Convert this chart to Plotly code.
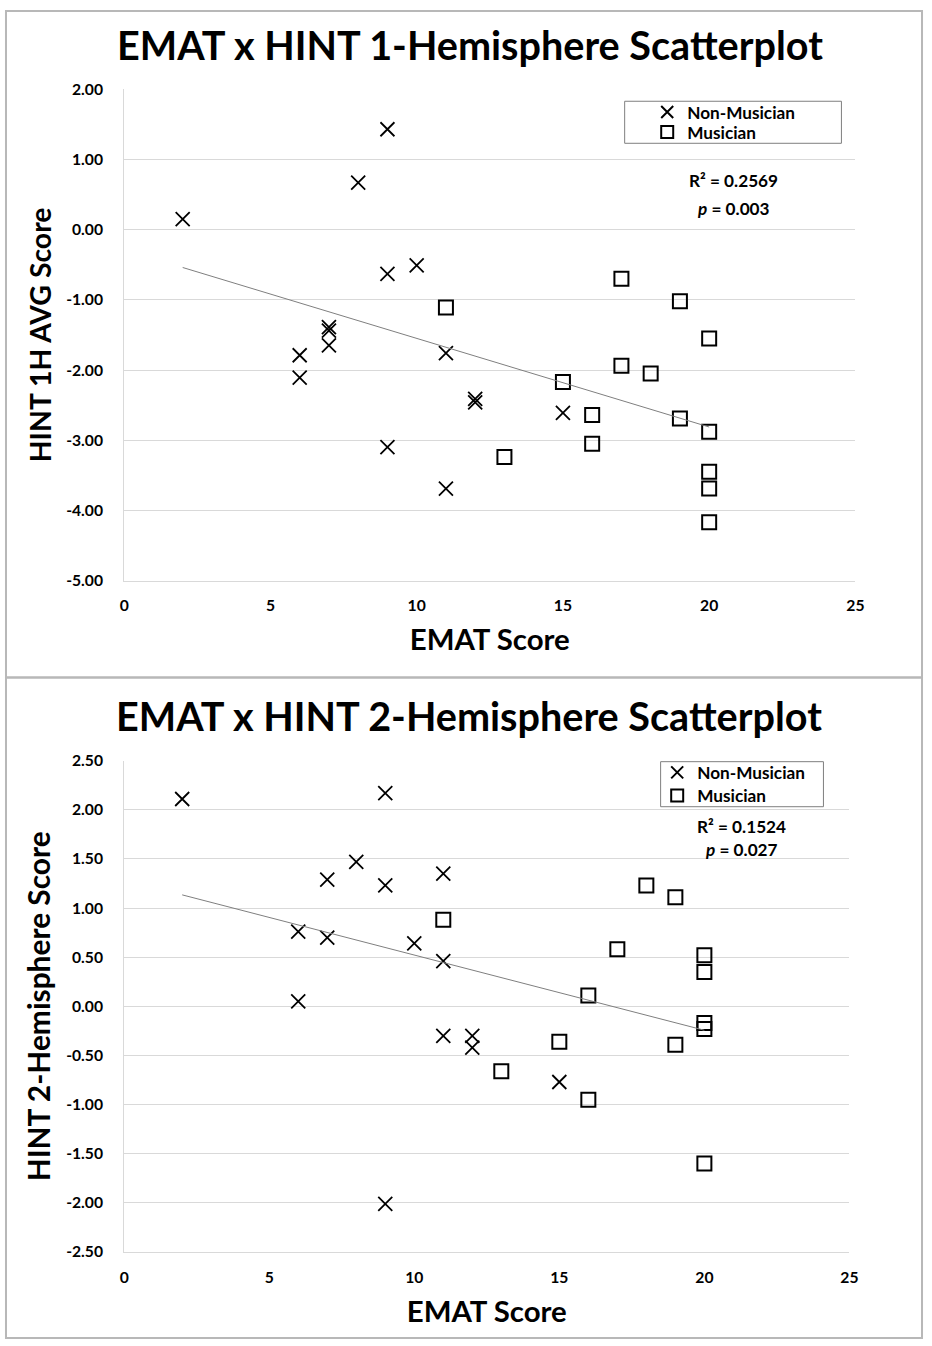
import numpy as np
import plotly.graph_objects as go

# ---------------- data ----------------
# Panel 1: EMAT x HINT 1-Hemisphere
emat_nm_1 = [2, 8, 9, 9, 10, 7, 7, 7, 6, 6, 9, 11, 11, 12, 12, 15]
hint1_nm = [0.15, 0.67, 1.43, -0.63, -0.51, -1.39, -1.44, -1.65, -1.79, -2.11,
            -3.10, -1.76, -3.69, -2.41, -2.46, -2.61]
emat_m_1 = [17, 19, 20, 11, 17, 18, 15, 16, 19, 20, 16, 13, 20, 20, 20]
hint1_m = [-0.70, -1.02, -1.55, -1.11, -1.94, -2.05, -2.17, -2.64, -2.69, -2.88,
           -3.05, -3.24, -3.45, -3.69, -4.17]

# Panel 2: EMAT x HINT 2-Hemisphere
emat_nm_2 = [2, 9, 8, 7, 9, 11, 6, 7, 10, 11, 6, 11, 12, 12, 15, 9]
hint2_nm = [2.11, 2.17, 1.47, 1.29, 1.23, 1.35, 0.76, 0.70, 0.64, 0.46, 0.05,
            -0.30, -0.30, -0.42, -0.77, -2.01]
emat_m_2 = [11, 18, 19, 17, 20, 20, 16, 20, 20, 15, 19, 13, 16, 20]
hint2_m = [0.88, 1.23, 1.11, 0.58, 0.52, 0.35, 0.11, -0.17, -0.23, -0.36, -0.39,
           -0.66, -0.95, -1.60]

# tick values / labels
x_ticks = [0, 5, 10, 15, 20, 25]
y1_ticks = [2, 1, 0, -1, -2, -3, -4, -5]
y2_ticks = [2.5, 2.0, 1.5, 1.0, 0.5, 0.0, -0.5, -1.0, -1.5, -2.0, -2.5]
y1_labels = [f"{v:.2f}" for v in y1_ticks]
y2_labels = [f"{v:.2f}" for v in y2_ticks]

titles = ["EMAT x HINT 1-Hemisphere Scatterplot", "EMAT x HINT 2-Hemisphere Scatterplot"]
x_title = "EMAT Score"
y_titles = ["HINT 1H AVG Score", "HINT 2-Hemisphere Score"]
stats_1 = ["R² = 0.2569", "<i>p</i> = 0.003"]
stats_2 = ["R² = 0.1524", "<i>p</i> = 0.027"]
series_names = ["Non-Musician", "Musician"]

# ---------------- layout helpers ----------------
W, H = 932, 1346
FONT = "Lato, 'Open Sans', sans-serif"
# the photographed page appears slightly inset/scaled; place targets accordingly
S, OX, OY = 0.986, 3.7, 9.8


def X(t):
    return (t - OX) / S


def Y(t):
    return (t - OY) / S


def px(t):
    return min(max(X(t), 0), W) / W


def py(t):
    return 1 - min(max(Y(t), 0), H) / H


def fs(v):
    return round(v / S, 1)


fig = go.Figure()

marker_nm = dict(symbol="x-thin-open", size=14, color="black",
                 line=dict(color="black", width=1.8))
marker_m = dict(symbol="square-open", size=14, color="black",
                line=dict(color="black", width=2))


def add_panel(xnm, ynm, xm, ym, xa, ya, leg_nm, leg_m):
    fig.add_trace(go.Scatter(x=xnm, y=ynm, mode="markers", name=series_names[0],
                             marker=marker_nm, xaxis=xa, yaxis=ya, legend=leg_nm))
    fig.add_trace(go.Scatter(x=xm, y=ym, mode="markers", name=series_names[1],
                             marker=marker_m, xaxis=xa, yaxis=ya, legend=leg_m))
    allx = np.array(xnm + xm, dtype=float)
    ally = np.array(ynm + ym, dtype=float)
    k, b = np.polyfit(allx, ally, 1)
    lx = np.array([allx.min(), allx.max()])
    fig.add_trace(go.Scatter(x=lx, y=k * lx + b, mode="lines", showlegend=False,
                             line=dict(color="#7f7f7f", width=1), xaxis=xa, yaxis=ya,
                             hoverinfo="skip"))


add_panel(emat_nm_1, hint1_nm, emat_m_1, hint1_m, "x", "y", "legend", "legend2")
add_panel(emat_nm_2, hint2_nm, emat_m_2, hint2_m, "x2", "y2", "legend3", "legend4")

tickfont = dict(family=FONT, size=fs(15.5), color="black", weight="bold")
xtitlefont = dict(family=FONT, size=fs(29), color="black", weight="bold")
grid = "#d9d9d9"

xaxis_common = dict(range=[0, 25], tickmode="array", tickvals=x_ticks,
                    showgrid=False, zeroline=False,
                    showline=True, linecolor=grid, linewidth=1, ticks="",
                    tickfont=tickfont, ticklabelstandoff=11,
                    title=dict(text=x_title, font=xtitlefont, standoff=16))
yaxis_common = dict(showgrid=True, gridcolor=grid, gridwidth=1, zeroline=False,
                    showline=True, linecolor=grid, linewidth=1, ticks="",
                    tickmode="array", tickfont=tickfont, ticklabelstandoff=17)


def legend_at(text_x, y):
    # legend text starts ~41px right of the legend's left edge
    return dict(x=(X(text_x) - 41) / W, y=py(y), xanchor="left", yanchor="middle",
                bgcolor="rgba(0,0,0,0)", borderwidth=0,
                font=dict(family=FONT, size=fs(17), color="black", weight="bold"),
                itemsizing="constant")


fig.update_layout(
    width=W, height=H, autosize=False,
    margin=dict(l=0, r=0, t=0, b=0),
    paper_bgcolor="white", plot_bgcolor="white",
    showlegend=True,
    xaxis=dict(domain=[px(123), px(855)], anchor="y", **xaxis_common),
    yaxis=dict(domain=[py(580), py(89)], anchor="x", range=[-5, 2],
               tickvals=y1_ticks, ticktext=y1_labels,
               title=dict(text=y_titles[0],
                          font=dict(family=FONT, size=fs(28), color="black", weight="bold"),
                          standoff=6), **yaxis_common),
    xaxis2=dict(domain=[px(123), px(849)], anchor="y2", **xaxis_common),
    yaxis2=dict(domain=[py(1251), py(760)], anchor="x2", range=[-2.5, 2.5],
                tickvals=y2_ticks, ticktext=y2_labels,
                title=dict(text=y_titles[1],
                           font=dict(family=FONT, size=fs(29.5), color="black", weight="bold"),
                           standoff=6), **yaxis_common),
    legend=legend_at(687, 112),
    legend2=legend_at(687, 132),
    legend3=legend_at(697, 772),
    legend4=legend_at(697, 795),
)

statfont = dict(family=FONT, size=fs(17), color="black", weight="bold")
annotations = [
    dict(text=titles[0], x=px(469), y=py(44), xref="paper", yref="paper",
         showarrow=False, xanchor="center", yanchor="middle",
         font=dict(family=FONT, size=fs(39), color="black", weight="bold")),
    dict(text=titles[1], x=px(468), y=py(715), xref="paper", yref="paper",
         showarrow=False, xanchor="center", yanchor="middle",
         font=dict(family=FONT, size=fs(39), color="black", weight="bold")),
    dict(text=stats_1[0], x=px(733), y=py(180), xref="paper", yref="paper",
         xanchor="center", yanchor="middle", showarrow=False, font=statfont),
    dict(text=stats_1[1], x=px(733), y=py(208), xref="paper", yref="paper",
         xanchor="center", yanchor="middle", showarrow=False, font=statfont),
    dict(text=stats_2[0], x=px(741), y=py(826), xref="paper", yref="paper",
         xanchor="center", yanchor="middle", showarrow=False, font=statfont),
    dict(text=stats_2[1], x=px(741), y=py(849), xref="paper", yref="paper",
         xanchor="center", yanchor="middle", showarrow=False, font=statfont),
]
fig.update_layout(annotations=annotations)

frame = "#b8b8b8"
shapes = [
    # outer frames of the two panels
    dict(type="rect", xref="paper", yref="paper", x0=1 / W, x1=1 - 1 / W,
         y0=py(677), y1=1 - 1 / H, line=dict(color=frame, width=2)),
    dict(type="rect", xref="paper", yref="paper", x0=1 / W, x1=1 - 1 / W,
         y0=0, y1=py(677), line=dict(color=frame, width=2)),
    # legend boxes
    dict(type="rect", xref="paper", yref="paper", x0=px(624), x1=px(841), y0=py(143), y1=py(101),
         line=dict(color="#7f7f7f", width=1)),
    dict(type="rect", xref="paper", yref="paper", x0=px(660), x1=px(823), y0=py(806), y1=py(761),
         line=dict(color="#7f7f7f", width=1)),
]
fig.update_layout(shapes=shapes)

fig.write_html(
    "out.html",
    config={"displayModeBar": False},
    post_script=("document.documentElement.style.margin='0';"
                 "document.documentElement.style.padding='0';"
                 "document.body.style.margin='0';document.body.style.padding='0';"
                 "document.body.style.overflow='hidden';"),
)
